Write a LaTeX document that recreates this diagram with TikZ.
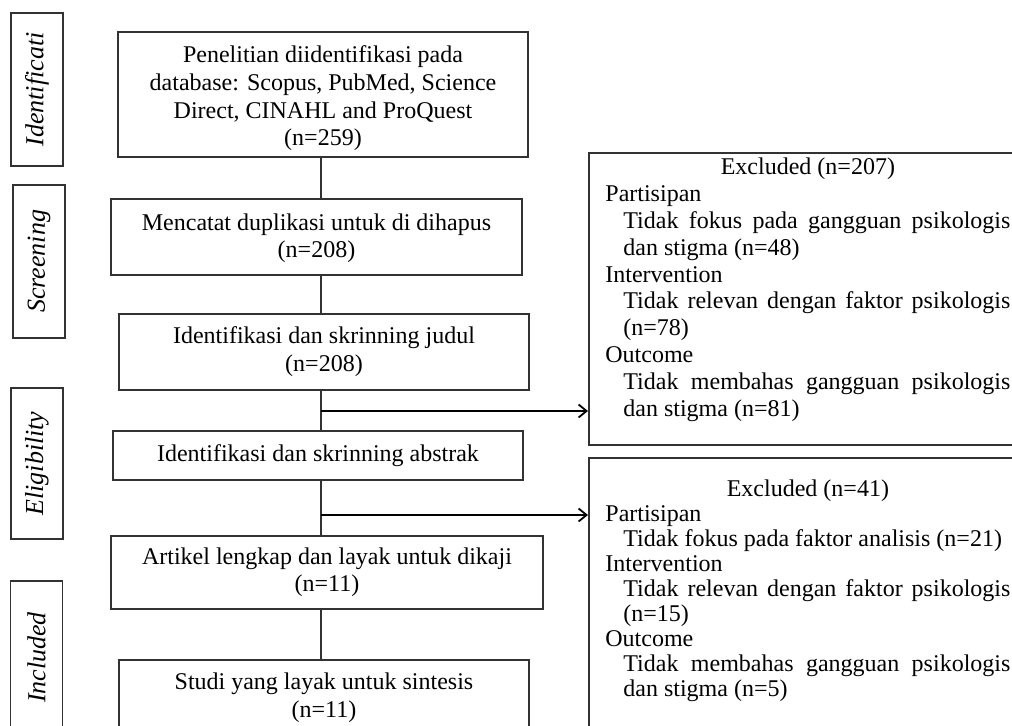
\documentclass[tikz,border=0pt]{standalone}
\usepackage{fontspec}
\setmainfont{Liberation Serif}
\usetikzlibrary{arrows.meta,positioning}
\definecolor{boxgray}{RGB}{50,50,50}

\newcommand{\exsub}[1]{{\leftskip=9pt #1\par}}

\tikzset{
  mainbox/.style={draw=boxgray, line width=0.9pt, inner sep=0pt,
    font=\fontsize{12}{13.8}\selectfont},
  sidebox/.style={draw=boxgray, line width=0.9pt, rotate=90, inner sep=0pt,
    minimum height=26pt, font=\fontsize{13}{15}\selectfont\itshape},
  exbox/.style={draw=boxgray, line width=0.9pt, anchor=north west, inner sep=0pt,
    minimum width=221pt},
  extext/.style={anchor=base west, inner sep=0pt},
  link/.style={draw=boxgray, line width=0.7pt},
  arr/.style={draw=black, line width=0.9pt, -{Straight Barb[length=4pt,width=6.5pt]}}
}

\begin{document}
\begin{tikzpicture}[x=0.5pt, y=-0.5pt]
  \useasboundingbox (0,0) rectangle (1012,726);
  \clip (0,0) rectangle (1012,726);

  % stage labels
  \node[sidebox, minimum width=76.5pt] (sid) at (37,89.5) {Identificati};
  \node[sidebox, minimum width=76.5pt] (sscr) at (39,261.5) {Screening};
  \node[sidebox, minimum width=75.5pt] (selig) at (37,463.5) {Eligibility};
  \node[sidebox, minimum width=76.5pt] (sinc) at (36.5,657.5) {Included};

  % main column
  \node[mainbox, minimum width=205pt, minimum height=62.5pt] (b1) at (323,94.5) {
    \begin{tabular}{c}
      \rule{0pt}{14pt}Penelitian diidentifikasi pada\\
      database: Scopus, PubMed, Science\\
      Direct, CINAHL and ProQuest\\
      (n=259)
    \end{tabular}
  };
  \node[mainbox, minimum width=205.5pt, minimum height=38pt] (b2) at (316.5,237) {
    \begin{tabular}{c}
      \rule{0pt}{11pt}Mencatat duplikasi untuk di dihapus\\
      (n=208)
    \end{tabular}
  };
  \node[mainbox, minimum width=205pt, minimum height=38pt] (b3) at (324,352) {
    \begin{tabular}{c}
      Identifikasi dan skrinning judul\\
      (n=208)
    \end{tabular}
  };
  \node[mainbox, minimum width=205pt, minimum height=24.5pt] (b4) at (318,455.5)
    {Identifikasi dan skrinning abstrak};
  \node[mainbox, minimum width=216pt, minimum height=36.5pt] (b5) at (327,572.5) {
    \begin{tabular}{c}
      Artikel lengkap dan layak untuk dikaji\\
      (n=11)
    \end{tabular}
  };
  \node[mainbox, minimum width=205pt, minimum height=38pt] (b6) at (324,698) {
    \begin{tabular}{c}
      Studi yang layak untuk sintesis\\
      (n=11)
    \end{tabular}
  };

  % excluded boxes
  \node[exbox, minimum height=146pt] (e1) at (588,152) {};
  \node[exbox, minimum height=151.5pt] (e2) at (588,457) {};

  \node[extext, font=\fontsize{12}{13.4}\selectfont] (e1t) at (605,175) {
    \begin{minipage}[t]{202.5pt}
      {\centering Excluded (n=207)\par}
      Partisipan\par
      \exsub{Tidak fokus pada gangguan psikologis\linebreak dan stigma (n=48)}
      Intervention\par
      \exsub{Tidak relevan dengan faktor psikologis\linebreak (n=78)}
      Outcome\par
      \exsub{Tidak membahas gangguan psikologis\linebreak dan stigma (n=81)}
    \end{minipage}
  };
  \node[extext, font=\fontsize{12}{12.45}\selectfont] (e2t) at (605,497) {
    \begin{minipage}[t]{202.5pt}
      {\centering Excluded (n=41)\par}
      Partisipan\par
      \exsub{Tidak fokus pada faktor analisis (n=21)}
      Intervention\par
      \exsub{Tidak relevan dengan faktor psikologis\linebreak (n=15)}
      Outcome\par
      \exsub{Tidak membahas gangguan psikologis\linebreak dan stigma (n=5)}
    \end{minipage}
  };

  % connectors
  \coordinate (spine) at (321,0);
  \coordinate (j1) at (321,411);
  \coordinate (j2) at (321,515);
  \foreach \a/\b in {b1/b2,b2/b3,b3/b4,b4/b5,b5/b6}
    \draw[link] (\a.south -| spine) -- (\b.north -| spine);
  \draw[arr] (j1) -- (j1 -| e1.west);
  \draw[arr] (j2) -- (j2 -| e2.west);
\end{tikzpicture}
\end{document}
